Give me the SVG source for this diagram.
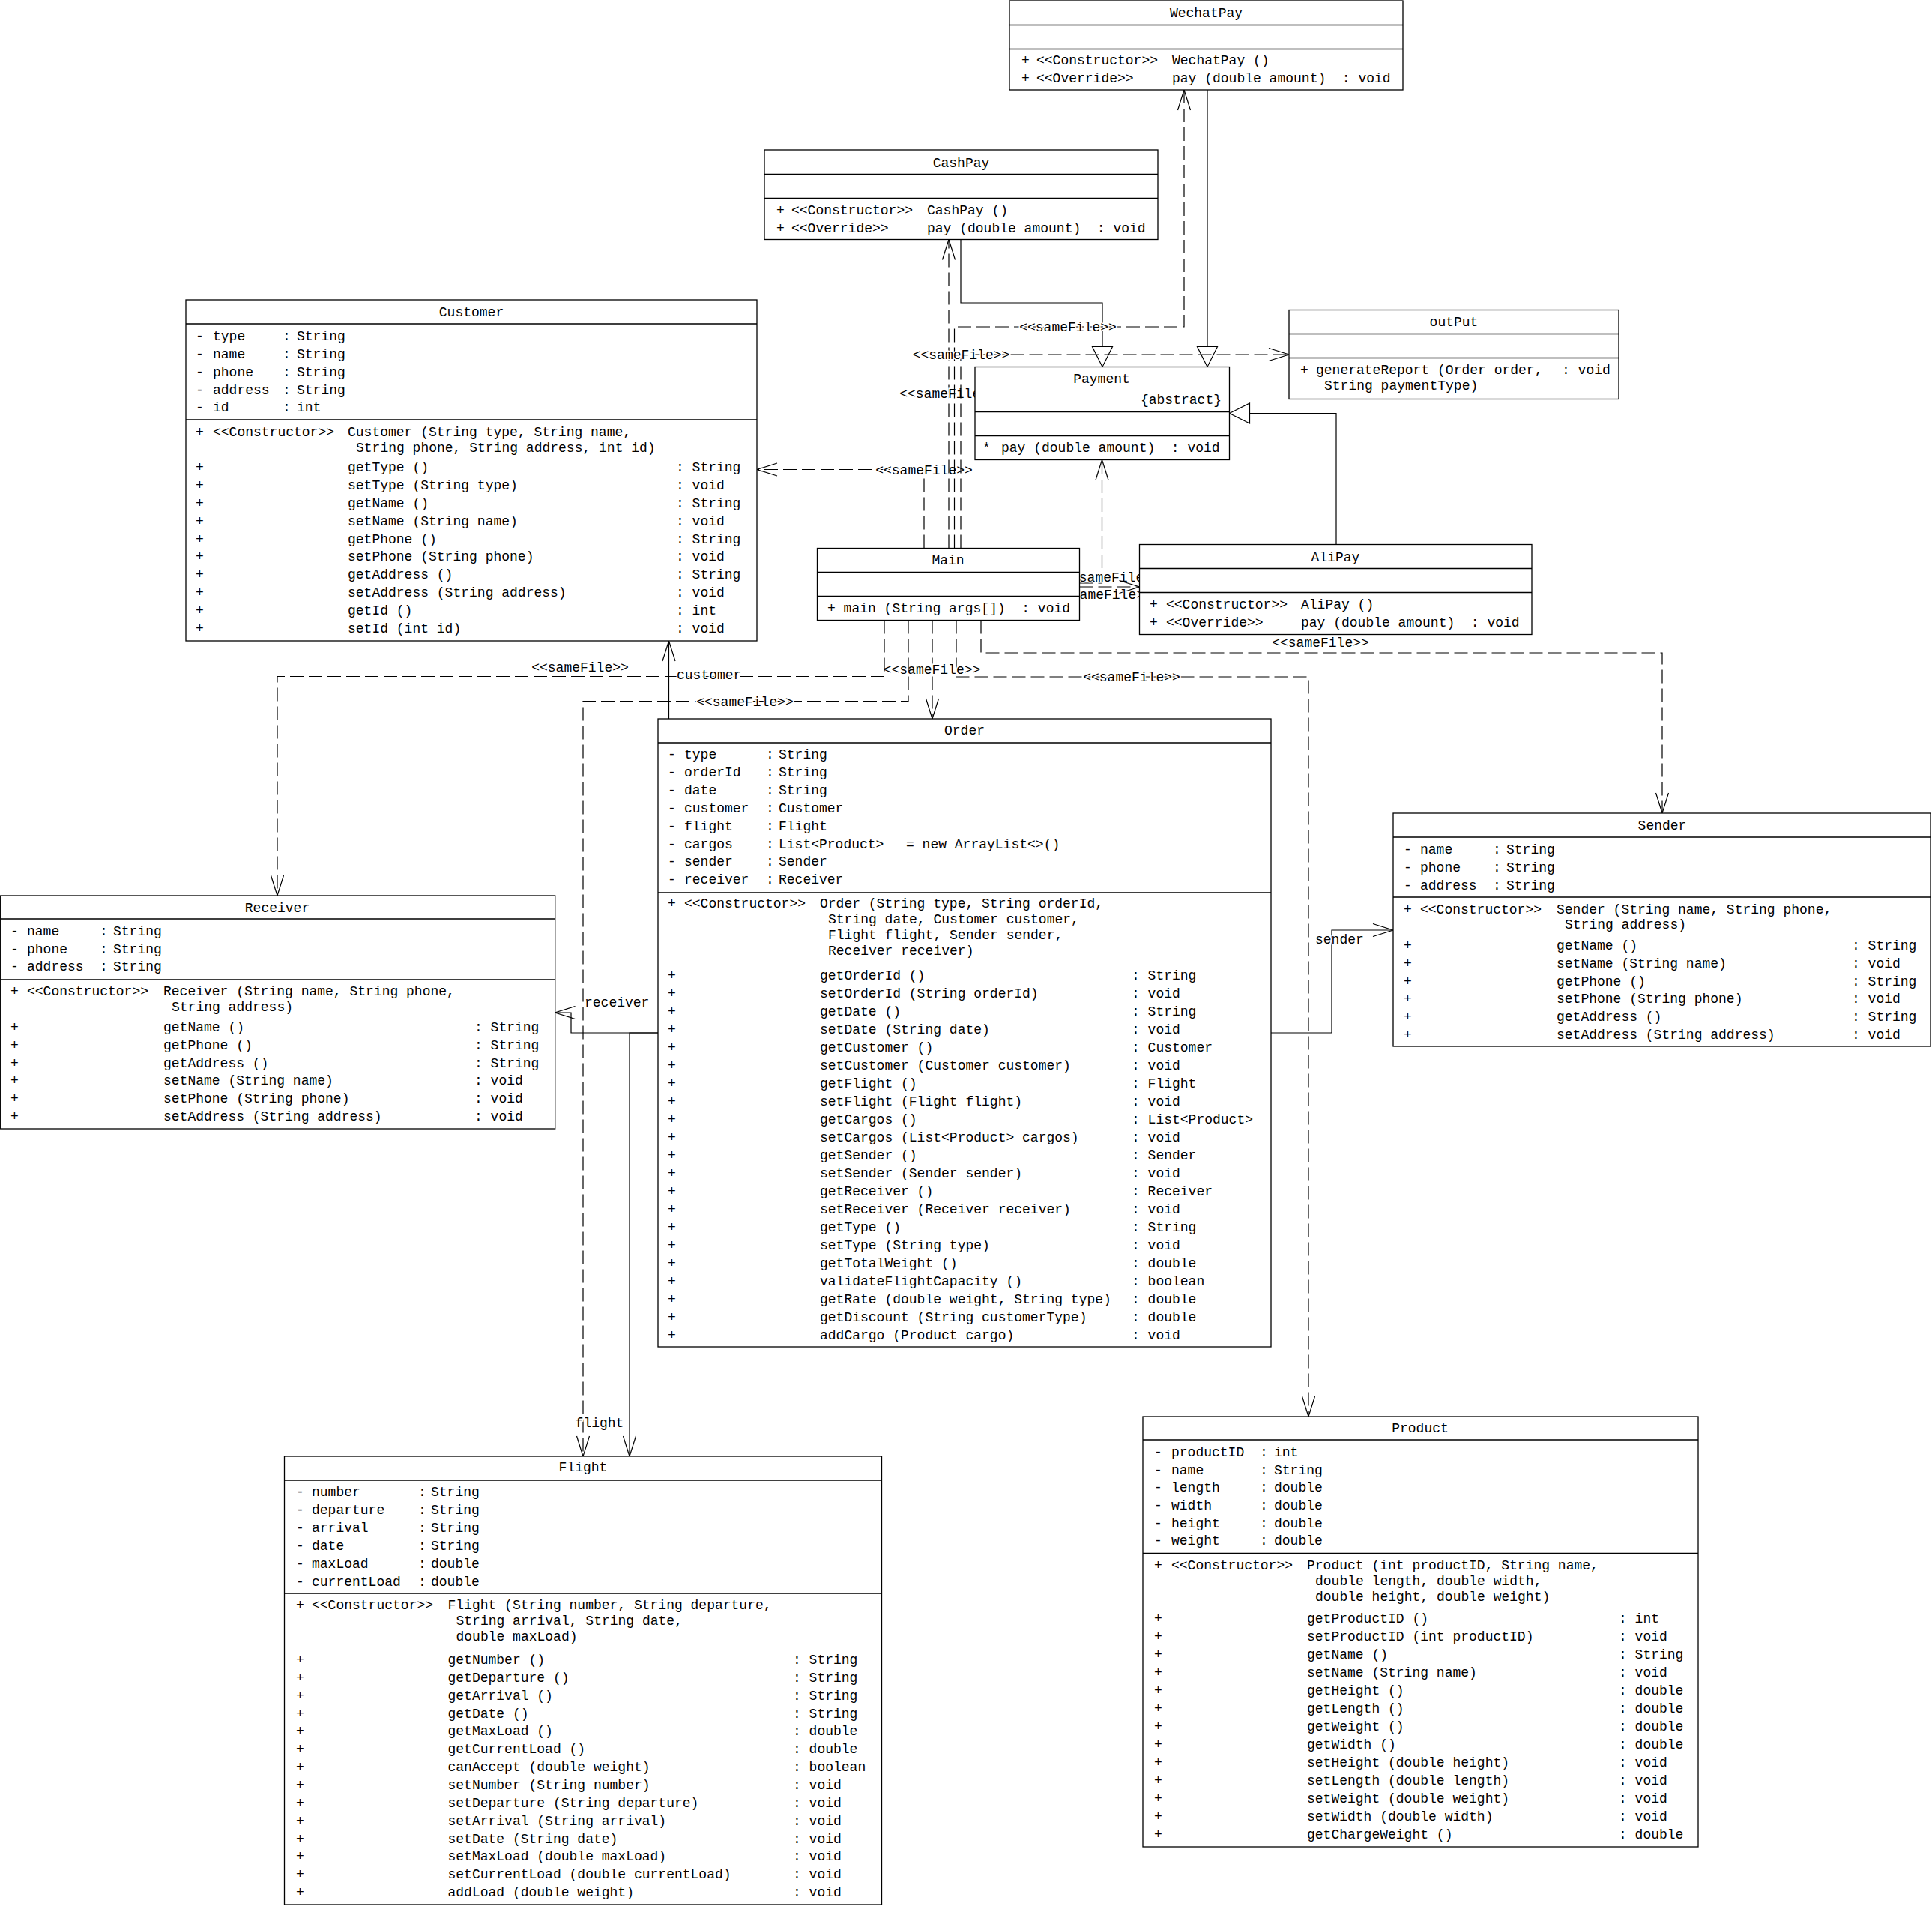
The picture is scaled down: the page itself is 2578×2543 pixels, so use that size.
<svg xmlns="http://www.w3.org/2000/svg" width="2578" height="2543" viewBox="0 0 2578 2543">
<style>
.t{font-family:"Liberation Mono","DejaVu Sans Mono",monospace;font-size:18px;fill:#000;white-space:pre}
.m{text-anchor:middle}
.e{text-anchor:end}
.box{fill:#fff;stroke:#000;stroke-width:1.3}
.ln{fill:none;stroke:#000;stroke-width:1.3}
.c{fill:none;stroke:#000;stroke-width:1.2}
.d{stroke-dasharray:18 7}
.lb{font-family:"Liberation Mono","DejaVu Sans Mono",monospace;font-size:18px;fill:#000;paint-order:stroke;stroke:#fff;stroke-width:3px;white-space:pre}
</style>
<defs>
<marker id="arr" markerUnits="userSpaceOnUse" markerWidth="30" markerHeight="20" refX="27" refY="9" orient="auto" overflow="visible"><path d="M0,0.5 L27,9 L0,17.5" fill="none" stroke="#000" stroke-width="1.2"/></marker>
<marker id="tri" markerUnits="userSpaceOnUse" markerWidth="30" markerHeight="30" refX="27" refY="13.5" orient="auto" overflow="visible"><path d="M0,0 L27,13.5 L0,27 Z" fill="#fff" stroke="#000" stroke-width="1.2"/></marker>
</defs>
<rect width="2578" height="2543" fill="#fff"/>

<g id="connectors">
<path class="c" d="M1282,319.5 V404 H1471 V489.5" marker-end="url(#tri)"/>
<path class="c" d="M1611,120 V489.5" marker-end="url(#tri)"/>
<path class="c" d="M1783,726.5 V551.5 H1640.5" marker-end="url(#tri)"/>

<path class="c d" d="M1233,731.5 V626.5 H1010" marker-end="url(#arr)"/>
<text class="lb m" x="1233" y="633">&lt;&lt;sameFile&gt;&gt;</text>
<path class="c d" d="M1266,731.5 V319.5" marker-end="url(#arr)"/>
<text class="lb m" x="1265" y="531">&lt;&lt;sameFile&gt;&gt;</text>
<path class="c d" d="M1273.5,731.5 V436 H1580 V120" marker-end="url(#arr)"/>
<text class="lb m" x="1425" y="442">&lt;&lt;sameFile&gt;&gt;</text>
<path class="c d" d="M1282,731.5 V473 H1720" marker-end="url(#arr)"/>
<text class="lb m" x="1282.5" y="479">&lt;&lt;sameFile&gt;&gt;</text>
<path class="c d" d="M1440.5,778 H1470.5 V613.5" marker-end="url(#arr)"/>
<text class="lb m" x="1483" y="776">&lt;&lt;sameFile&gt;&gt;</text>
<path class="c d" d="M1440.5,783 H1520.5" marker-end="url(#arr)"/>
<text class="lb m" x="1473" y="799">&lt;&lt;sameFile&gt;&gt;</text>
<path class="c d" d="M1309,827.5 V871 H2218 V1085" marker-end="url(#arr)"/>
<text class="lb m" x="1762" y="863">&lt;&lt;sameFile&gt;&gt;</text>
<path class="c d" d="M1276,827.5 V903 H1746 V1890" marker-end="url(#arr)"/>
<text class="lb m" x="1510" y="909">&lt;&lt;sameFile&gt;&gt;</text>
<path class="c d" d="M1244,827.5 V959" marker-end="url(#arr)"/>
<text class="lb m" x="1243.5" y="899">&lt;&lt;sameFile&gt;&gt;</text>
<path class="c d" d="M1212,827.5 V935.5 H778 V1943" marker-end="url(#arr)"/>
<text class="lb m" x="994" y="942">&lt;&lt;sameFile&gt;&gt;</text>
<path class="c d" d="M1180,827.5 V902.5 H370 V1195" marker-end="url(#arr)"/>
<text class="lb m" x="774" y="896">&lt;&lt;sameFile&gt;&gt;</text>

<path class="c" d="M892.5,959 V855" marker-end="url(#arr)"/>
<text class="lb" x="903" y="906">customer</text>
<path class="c" d="M878,1378 H762 V1351 H740.5" marker-end="url(#arr)"/>
<text class="lb" x="780" y="1343">receiver</text>
<path class="c" d="M878,1378 H840 V1943" marker-end="url(#arr)"/>
<text class="lb m" x="800" y="1904">flight</text>
<path class="c" d="M1696,1378 H1777 V1241 H1859" marker-end="url(#arr)"/>
<text class="lb" x="1755" y="1259">sender</text>
</g>

<g id="WechatPay">
<rect class="box" x="1347" y="1" width="525" height="119"/>
<path class="ln" d="M1347,33.5 H1872 M1347,65.5 H1872"/>
<text class="t m" x="1609.5" y="23">WechatPay</text>
<text class="t" y="86"><tspan x="1363">+</tspan><tspan x="1383">&lt;&lt;Constructor&gt;&gt;</tspan><tspan x="1564">WechatPay ()</tspan></text>
<text class="t" y="110"><tspan x="1363">+</tspan><tspan x="1383">&lt;&lt;Override&gt;&gt;</tspan><tspan x="1564">pay (double amount)  : void</tspan></text>
</g>

<g id="CashPay">
<rect class="box" x="1020" y="200" width="525" height="119.5"/>
<path class="ln" d="M1020,232.5 H1545 M1020,264.5 H1545"/>
<text class="t m" x="1282.5" y="223">CashPay</text>
<text class="t" y="285.5"><tspan x="1036">+</tspan><tspan x="1056">&lt;&lt;Constructor&gt;&gt;</tspan><tspan x="1237">CashPay ()</tspan></text>
<text class="t" y="309.5"><tspan x="1036">+</tspan><tspan x="1056">&lt;&lt;Override&gt;&gt;</tspan><tspan x="1237">pay (double amount)  : void</tspan></text>
</g>

<g id="outPut">
<rect class="box" x="1720" y="413.5" width="440" height="119"/>
<path class="ln" d="M1720,445.5 H2160 M1720,477.5 H2160"/>
<text class="t m" x="1940" y="435">outPut</text>
<text class="t" y="499"><tspan x="1735">+</tspan><tspan x="1756">generateReport (Order order,</tspan><tspan x="2084">: void</tspan></text>
<text class="t" x="1767" y="520">String paymentType)</text>
</g>

<g id="Payment">
<rect class="box" x="1301" y="489.5" width="339.5" height="124"/>
<path class="ln" d="M1301,549.5 H1640.5 M1301,581.5 H1640.5"/>
<text class="t m" x="1470" y="511">Payment</text>
<text class="t e" x="1630" y="539">{abstract}</text>
<text class="t" y="603"><tspan x="1311">*</tspan><tspan x="1336">pay (double amount)  : void</tspan></text>
</g>

<g id="Main">
<rect class="box" x="1090.5" y="731.5" width="350" height="96"/>
<path class="ln" d="M1090.5,763.5 H1440.5 M1090.5,795.5 H1440.5"/>
<text class="t m" x="1265" y="753">Main</text>
<text class="t" x="1104" y="817">+ main (String args[])  : void</text>
</g>

<g id="AliPay">
<rect class="box" x="1520.5" y="726.5" width="523.5" height="120"/>
<path class="ln" d="M1520.5,758.5 H2044 M1520.5,790.5 H2044"/>
<text class="t m" x="1782" y="749">AliPay</text>
<text class="t" y="812"><tspan x="1534">+</tspan><tspan x="1556">&lt;&lt;Constructor&gt;&gt;</tspan><tspan x="1736">AliPay ()</tspan></text>
<text class="t" y="836"><tspan x="1534">+</tspan><tspan x="1556">&lt;&lt;Override&gt;&gt;</tspan><tspan x="1736">pay (double amount)  : void</tspan></text>
</g>

<g id="Customer">
<rect class="box" x="248" y="400" width="762" height="455"/>
<path class="ln" d="M248,432 H1010 M248,560 H1010"/>
<text class="t m" x="629" y="422">Customer</text>
<text class="t" y="454"><tspan x="261">-</tspan><tspan x="284">type</tspan><tspan x="377">:</tspan><tspan x="396">String</tspan></text>
<text class="t" y="478"><tspan x="261">-</tspan><tspan x="284">name</tspan><tspan x="377">:</tspan><tspan x="396">String</tspan></text>
<text class="t" y="502"><tspan x="261">-</tspan><tspan x="284">phone</tspan><tspan x="377">:</tspan><tspan x="396">String</tspan></text>
<text class="t" y="526"><tspan x="261">-</tspan><tspan x="284">address</tspan><tspan x="377">:</tspan><tspan x="396">String</tspan></text>
<text class="t" y="549"><tspan x="261">-</tspan><tspan x="284">id</tspan><tspan x="377">:</tspan><tspan x="396">int</tspan></text>
<text class="t" y="582"><tspan x="261">+</tspan><tspan x="284">&lt;&lt;Constructor&gt;&gt;</tspan><tspan x="464">Customer (String type, String name,</tspan></text>
<text class="t" x="475" y="603">String phone, String address, int id)</text>
<text class="t" y="629"><tspan x="261">+</tspan><tspan x="464">getType ()</tspan><tspan x="902">: String</tspan></text>
<text class="t" y="653"><tspan x="261">+</tspan><tspan x="464">setType (String type)</tspan><tspan x="902">: void</tspan></text>
<text class="t" y="677"><tspan x="261">+</tspan><tspan x="464">getName ()</tspan><tspan x="902">: String</tspan></text>
<text class="t" y="701"><tspan x="261">+</tspan><tspan x="464">setName (String name)</tspan><tspan x="902">: void</tspan></text>
<text class="t" y="724.5"><tspan x="261">+</tspan><tspan x="464">getPhone ()</tspan><tspan x="902">: String</tspan></text>
<text class="t" y="748"><tspan x="261">+</tspan><tspan x="464">setPhone (String phone)</tspan><tspan x="902">: void</tspan></text>
<text class="t" y="772"><tspan x="261">+</tspan><tspan x="464">getAddress ()</tspan><tspan x="902">: String</tspan></text>
<text class="t" y="796"><tspan x="261">+</tspan><tspan x="464">setAddress (String address)</tspan><tspan x="902">: void</tspan></text>
<text class="t" y="820"><tspan x="261">+</tspan><tspan x="464">getId ()</tspan><tspan x="902">: int</tspan></text>
<text class="t" y="844"><tspan x="261">+</tspan><tspan x="464">setId (int id)</tspan><tspan x="902">: void</tspan></text>
</g>

<g id="Order">
<rect class="box" x="878" y="959" width="818" height="838"/>
<path class="ln" d="M878,991 H1696 M878,1191 H1696"/>
<text class="t m" x="1287" y="980">Order</text>
<text class="t" y="1012"><tspan x="891">-</tspan><tspan x="913">type</tspan><tspan x="1022">:</tspan><tspan x="1039">String</tspan></text>
<text class="t" y="1036"><tspan x="891">-</tspan><tspan x="913">orderId</tspan><tspan x="1022">:</tspan><tspan x="1039">String</tspan></text>
<text class="t" y="1060"><tspan x="891">-</tspan><tspan x="913">date</tspan><tspan x="1022">:</tspan><tspan x="1039">String</tspan></text>
<text class="t" y="1084"><tspan x="891">-</tspan><tspan x="913">customer</tspan><tspan x="1022">:</tspan><tspan x="1039">Customer</tspan></text>
<text class="t" y="1108"><tspan x="891">-</tspan><tspan x="913">flight</tspan><tspan x="1022">:</tspan><tspan x="1039">Flight</tspan></text>
<text class="t" y="1131.5"><tspan x="891">-</tspan><tspan x="913">cargos</tspan><tspan x="1022">:</tspan><tspan x="1039">List&lt;Product&gt;</tspan><tspan x="1209">= new ArrayList&lt;&gt;()</tspan></text>
<text class="t" y="1155"><tspan x="891">-</tspan><tspan x="913">sender</tspan><tspan x="1022">:</tspan><tspan x="1039">Sender</tspan></text>
<text class="t" y="1179"><tspan x="891">-</tspan><tspan x="913">receiver</tspan><tspan x="1022">:</tspan><tspan x="1039">Receiver</tspan></text>
<text class="t" y="1211"><tspan x="891">+</tspan><tspan x="913">&lt;&lt;Constructor&gt;&gt;</tspan><tspan x="1094">Order (String type, String orderId,</tspan></text>
<text class="t" x="1105" y="1232">String date, Customer customer,</text>
<text class="t" x="1105" y="1253">Flight flight, Sender sender,</text>
<text class="t" x="1105" y="1274">Receiver receiver)</text>
<text class="t" y="1307"><tspan x="891">+</tspan><tspan x="1094">getOrderId ()</tspan><tspan x="1510">: String</tspan></text>
<text class="t" y="1331"><tspan x="891">+</tspan><tspan x="1094">setOrderId (String orderId)</tspan><tspan x="1510">: void</tspan></text>
<text class="t" y="1355"><tspan x="891">+</tspan><tspan x="1094">getDate ()</tspan><tspan x="1510">: String</tspan></text>
<text class="t" y="1379"><tspan x="891">+</tspan><tspan x="1094">setDate (String date)</tspan><tspan x="1510">: void</tspan></text>
<text class="t" y="1403"><tspan x="891">+</tspan><tspan x="1094">getCustomer ()</tspan><tspan x="1510">: Customer</tspan></text>
<text class="t" y="1427"><tspan x="891">+</tspan><tspan x="1094">setCustomer (Customer customer)</tspan><tspan x="1510">: void</tspan></text>
<text class="t" y="1451"><tspan x="891">+</tspan><tspan x="1094">getFlight ()</tspan><tspan x="1510">: Flight</tspan></text>
<text class="t" y="1475"><tspan x="891">+</tspan><tspan x="1094">setFlight (Flight flight)</tspan><tspan x="1510">: void</tspan></text>
<text class="t" y="1499"><tspan x="891">+</tspan><tspan x="1094">getCargos ()</tspan><tspan x="1510">: List&lt;Product&gt;</tspan></text>
<text class="t" y="1523"><tspan x="891">+</tspan><tspan x="1094">setCargos (List&lt;Product&gt; cargos)</tspan><tspan x="1510">: void</tspan></text>
<text class="t" y="1547"><tspan x="891">+</tspan><tspan x="1094">getSender ()</tspan><tspan x="1510">: Sender</tspan></text>
<text class="t" y="1571"><tspan x="891">+</tspan><tspan x="1094">setSender (Sender sender)</tspan><tspan x="1510">: void</tspan></text>
<text class="t" y="1595"><tspan x="891">+</tspan><tspan x="1094">getReceiver ()</tspan><tspan x="1510">: Receiver</tspan></text>
<text class="t" y="1619"><tspan x="891">+</tspan><tspan x="1094">setReceiver (Receiver receiver)</tspan><tspan x="1510">: void</tspan></text>
<text class="t" y="1643"><tspan x="891">+</tspan><tspan x="1094">getType ()</tspan><tspan x="1510">: String</tspan></text>
<text class="t" y="1667"><tspan x="891">+</tspan><tspan x="1094">setType (String type)</tspan><tspan x="1510">: void</tspan></text>
<text class="t" y="1691"><tspan x="891">+</tspan><tspan x="1094">getTotalWeight ()</tspan><tspan x="1510">: double</tspan></text>
<text class="t" y="1715"><tspan x="891">+</tspan><tspan x="1094">validateFlightCapacity ()</tspan><tspan x="1510">: boolean</tspan></text>
<text class="t" y="1739"><tspan x="891">+</tspan><tspan x="1094">getRate (double weight, String type)</tspan><tspan x="1510">: double</tspan></text>
<text class="t" y="1763"><tspan x="891">+</tspan><tspan x="1094">getDiscount (String customerType)</tspan><tspan x="1510">: double</tspan></text>
<text class="t" y="1787"><tspan x="891">+</tspan><tspan x="1094">addCargo (Product cargo)</tspan><tspan x="1510">: void</tspan></text>
</g>

<g id="Receiver">
<rect class="box" x="0.7" y="1195" width="740" height="311"/>
<path class="ln" d="M0.7,1226 H740.7 M0.7,1307 H740.7"/>
<text class="t m" x="370" y="1217">Receiver</text>
<text class="t" y="1248"><tspan x="14">-</tspan><tspan x="36">name</tspan><tspan x="133">:</tspan><tspan x="151">String</tspan></text>
<text class="t" y="1272"><tspan x="14">-</tspan><tspan x="36">phone</tspan><tspan x="133">:</tspan><tspan x="151">String</tspan></text>
<text class="t" y="1295"><tspan x="14">-</tspan><tspan x="36">address</tspan><tspan x="133">:</tspan><tspan x="151">String</tspan></text>
<text class="t" y="1328"><tspan x="14">+</tspan><tspan x="36">&lt;&lt;Constructor&gt;&gt;</tspan><tspan x="218">Receiver (String name, String phone,</tspan></text>
<text class="t" x="229" y="1349">String address)</text>
<text class="t" y="1376"><tspan x="14">+</tspan><tspan x="218">getName ()</tspan><tspan x="633">: String</tspan></text>
<text class="t" y="1400"><tspan x="14">+</tspan><tspan x="218">getPhone ()</tspan><tspan x="633">: String</tspan></text>
<text class="t" y="1423.5"><tspan x="14">+</tspan><tspan x="218">getAddress ()</tspan><tspan x="633">: String</tspan></text>
<text class="t" y="1447"><tspan x="14">+</tspan><tspan x="218">setName (String name)</tspan><tspan x="633">: void</tspan></text>
<text class="t" y="1471"><tspan x="14">+</tspan><tspan x="218">setPhone (String phone)</tspan><tspan x="633">: void</tspan></text>
<text class="t" y="1494.5"><tspan x="14">+</tspan><tspan x="218">setAddress (String address)</tspan><tspan x="633">: void</tspan></text>
</g>

<g id="Sender">
<rect class="box" x="1859" y="1085" width="717" height="311"/>
<path class="ln" d="M1859,1117 H2576 M1859,1197 H2576"/>
<text class="t m" x="2218" y="1107">Sender</text>
<text class="t" y="1139"><tspan x="1873">-</tspan><tspan x="1895">name</tspan><tspan x="1992">:</tspan><tspan x="2010">String</tspan></text>
<text class="t" y="1163"><tspan x="1873">-</tspan><tspan x="1895">phone</tspan><tspan x="1992">:</tspan><tspan x="2010">String</tspan></text>
<text class="t" y="1187"><tspan x="1873">-</tspan><tspan x="1895">address</tspan><tspan x="1992">:</tspan><tspan x="2010">String</tspan></text>
<text class="t" y="1219"><tspan x="1873">+</tspan><tspan x="1895">&lt;&lt;Constructor&gt;&gt;</tspan><tspan x="2077">Sender (String name, String phone,</tspan></text>
<text class="t" x="2088" y="1239">String address)</text>
<text class="t" y="1267"><tspan x="1873">+</tspan><tspan x="2077">getName ()</tspan><tspan x="2471">: String</tspan></text>
<text class="t" y="1291"><tspan x="1873">+</tspan><tspan x="2077">setName (String name)</tspan><tspan x="2471">: void</tspan></text>
<text class="t" y="1315"><tspan x="1873">+</tspan><tspan x="2077">getPhone ()</tspan><tspan x="2471">: String</tspan></text>
<text class="t" y="1338"><tspan x="1873">+</tspan><tspan x="2077">setPhone (String phone)</tspan><tspan x="2471">: void</tspan></text>
<text class="t" y="1362"><tspan x="1873">+</tspan><tspan x="2077">getAddress ()</tspan><tspan x="2471">: String</tspan></text>
<text class="t" y="1386"><tspan x="1873">+</tspan><tspan x="2077">setAddress (String address)</tspan><tspan x="2471">: void</tspan></text>
</g>

<g id="Product">
<rect class="box" x="1525" y="1890" width="741" height="574"/>
<path class="ln" d="M1525,1921 H2266 M1525,2072.5 H2266"/>
<text class="t m" x="1895" y="1911">Product</text>
<text class="t" y="1943"><tspan x="1540">-</tspan><tspan x="1563">productID</tspan><tspan x="1681">:</tspan><tspan x="1700">int</tspan></text>
<text class="t" y="1967"><tspan x="1540">-</tspan><tspan x="1563">name</tspan><tspan x="1681">:</tspan><tspan x="1700">String</tspan></text>
<text class="t" y="1990"><tspan x="1540">-</tspan><tspan x="1563">length</tspan><tspan x="1681">:</tspan><tspan x="1700">double</tspan></text>
<text class="t" y="2014"><tspan x="1540">-</tspan><tspan x="1563">width</tspan><tspan x="1681">:</tspan><tspan x="1700">double</tspan></text>
<text class="t" y="2038"><tspan x="1540">-</tspan><tspan x="1563">height</tspan><tspan x="1681">:</tspan><tspan x="1700">double</tspan></text>
<text class="t" y="2061"><tspan x="1540">-</tspan><tspan x="1563">weight</tspan><tspan x="1681">:</tspan><tspan x="1700">double</tspan></text>
<text class="t" y="2094"><tspan x="1540">+</tspan><tspan x="1563">&lt;&lt;Constructor&gt;&gt;</tspan><tspan x="1744">Product (int productID, String name,</tspan></text>
<text class="t" x="1755" y="2115">double length, double width,</text>
<text class="t" x="1755" y="2136">double height, double weight)</text>
<text class="t" y="2165"><tspan x="1540">+</tspan><tspan x="1744">getProductID ()</tspan><tspan x="2160">: int</tspan></text>
<text class="t" y="2189"><tspan x="1540">+</tspan><tspan x="1744">setProductID (int productID)</tspan><tspan x="2160">: void</tspan></text>
<text class="t" y="2213"><tspan x="1540">+</tspan><tspan x="1744">getName ()</tspan><tspan x="2160">: String</tspan></text>
<text class="t" y="2237"><tspan x="1540">+</tspan><tspan x="1744">setName (String name)</tspan><tspan x="2160">: void</tspan></text>
<text class="t" y="2261"><tspan x="1540">+</tspan><tspan x="1744">getHeight ()</tspan><tspan x="2160">: double</tspan></text>
<text class="t" y="2285"><tspan x="1540">+</tspan><tspan x="1744">getLength ()</tspan><tspan x="2160">: double</tspan></text>
<text class="t" y="2309"><tspan x="1540">+</tspan><tspan x="1744">getWeight ()</tspan><tspan x="2160">: double</tspan></text>
<text class="t" y="2333"><tspan x="1540">+</tspan><tspan x="1744">getWidth ()</tspan><tspan x="2160">: double</tspan></text>
<text class="t" y="2357"><tspan x="1540">+</tspan><tspan x="1744">setHeight (double height)</tspan><tspan x="2160">: void</tspan></text>
<text class="t" y="2381"><tspan x="1540">+</tspan><tspan x="1744">setLength (double length)</tspan><tspan x="2160">: void</tspan></text>
<text class="t" y="2405"><tspan x="1540">+</tspan><tspan x="1744">setWeight (double weight)</tspan><tspan x="2160">: void</tspan></text>
<text class="t" y="2429"><tspan x="1540">+</tspan><tspan x="1744">setWidth (double width)</tspan><tspan x="2160">: void</tspan></text>
<text class="t" y="2453"><tspan x="1540">+</tspan><tspan x="1744">getChargeWeight ()</tspan><tspan x="2160">: double</tspan></text>
</g>

<g id="Flight">
<rect class="box" x="379.5" y="1943" width="797" height="598"/>
<path class="ln" d="M379.5,1975 H1176.5 M379.5,2126 H1176.5"/>
<text class="t m" x="778" y="1963">Flight</text>
<text class="t" y="1996"><tspan x="395">-</tspan><tspan x="416">number</tspan><tspan x="558">:</tspan><tspan x="575">String</tspan></text>
<text class="t" y="2020"><tspan x="395">-</tspan><tspan x="416">departure</tspan><tspan x="558">:</tspan><tspan x="575">String</tspan></text>
<text class="t" y="2044"><tspan x="395">-</tspan><tspan x="416">arrival</tspan><tspan x="558">:</tspan><tspan x="575">String</tspan></text>
<text class="t" y="2068"><tspan x="395">-</tspan><tspan x="416">date</tspan><tspan x="558">:</tspan><tspan x="575">String</tspan></text>
<text class="t" y="2092"><tspan x="395">-</tspan><tspan x="416">maxLoad</tspan><tspan x="558">:</tspan><tspan x="575">double</tspan></text>
<text class="t" y="2115.5"><tspan x="395">-</tspan><tspan x="416">currentLoad</tspan><tspan x="558">:</tspan><tspan x="575">double</tspan></text>
<text class="t" y="2147"><tspan x="395">+</tspan><tspan x="416">&lt;&lt;Constructor&gt;&gt;</tspan><tspan x="597.5">Flight (String number, String departure,</tspan></text>
<text class="t" x="608.5" y="2168">String arrival, String date,</text>
<text class="t" x="608.5" y="2189">double maxLoad)</text>
<text class="t" y="2220"><tspan x="395">+</tspan><tspan x="597.5">getNumber ()</tspan><tspan x="1058">: String</tspan></text>
<text class="t" y="2244"><tspan x="395">+</tspan><tspan x="597.5">getDeparture ()</tspan><tspan x="1058">: String</tspan></text>
<text class="t" y="2268"><tspan x="395">+</tspan><tspan x="597.5">getArrival ()</tspan><tspan x="1058">: String</tspan></text>
<text class="t" y="2292"><tspan x="395">+</tspan><tspan x="597.5">getDate ()</tspan><tspan x="1058">: String</tspan></text>
<text class="t" y="2315"><tspan x="395">+</tspan><tspan x="597.5">getMaxLoad ()</tspan><tspan x="1058">: double</tspan></text>
<text class="t" y="2339"><tspan x="395">+</tspan><tspan x="597.5">getCurrentLoad ()</tspan><tspan x="1058">: double</tspan></text>
<text class="t" y="2363"><tspan x="395">+</tspan><tspan x="597.5">canAccept (double weight)</tspan><tspan x="1058">: boolean</tspan></text>
<text class="t" y="2387"><tspan x="395">+</tspan><tspan x="597.5">setNumber (String number)</tspan><tspan x="1058">: void</tspan></text>
<text class="t" y="2411"><tspan x="395">+</tspan><tspan x="597.5">setDeparture (String departure)</tspan><tspan x="1058">: void</tspan></text>
<text class="t" y="2435"><tspan x="395">+</tspan><tspan x="597.5">setArrival (String arrival)</tspan><tspan x="1058">: void</tspan></text>
<text class="t" y="2458.5"><tspan x="395">+</tspan><tspan x="597.5">setDate (String date)</tspan><tspan x="1058">: void</tspan></text>
<text class="t" y="2482"><tspan x="395">+</tspan><tspan x="597.5">setMaxLoad (double maxLoad)</tspan><tspan x="1058">: void</tspan></text>
<text class="t" y="2506"><tspan x="395">+</tspan><tspan x="597.5">setCurrentLoad (double currentLoad)</tspan><tspan x="1058">: void</tspan></text>
<text class="t" y="2530"><tspan x="395">+</tspan><tspan x="597.5">addLoad (double weight)</tspan><tspan x="1058">: void</tspan></text>
</g>
</svg>
